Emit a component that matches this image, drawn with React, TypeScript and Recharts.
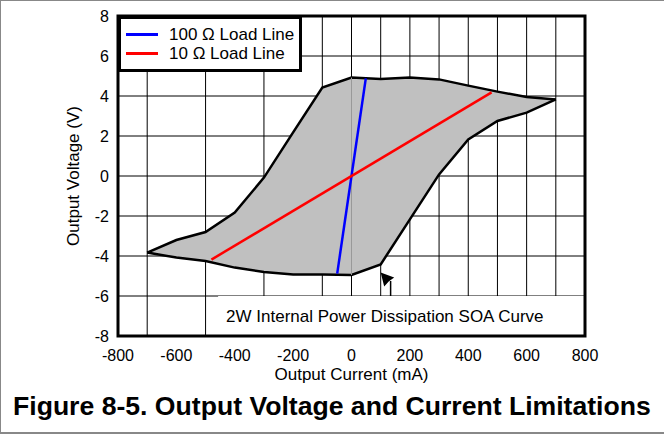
import React from 'react';
import {
  ComposedChart, Area, Line, XAxis, YAxis, CartesianGrid, ReferenceArea,
  ReferenceLine, ReferenceDot, Legend,
} from 'recharts';

// SOA polygon (output current mA, lower / upper output voltage V)
const soaCurrent = [-700, -600, -500, -400, -300, -200, -100, 0, 100, 200, 300, 400, 500, 600, 700];
const soaUpper = [-3.83, -3.2, -2.8, -1.83, -0.08, 2.18, 4.42, 4.92, 4.85, 4.92, 4.83, 4.52, 4.22, 3.95, 3.83];
const soaLower = [-3.83, -4.08, -4.25, -4.58, -4.8, -4.92, -4.92, -4.95, -4.42, -2.17, 0.08, 1.83, 2.75, 3.17, 3.83];

// Load lines
const load100Current = [-49, 49];
const load100Voltage = [-4.88, 4.88];
const load10Current = [-480, 480];
const load10Voltage = [-4.18, 4.18];
const legendNames = ['100 Ω Load Line', '10 Ω Load Line'];

// Axis ticks and grid
const xTicks = [-800, -600, -400, -200, 0, 200, 400, 600, 800];
const yTicks = [-8, -6, -4, -2, 0, 2, 4, 6, 8];
const xGrid = [-700, -600, -500, -400, -300, -200, -100, 0, 100, 200, 300, 400, 500, 600, 700];
const yGrid = [-6, -4, -2, 0, 2, 4, 6];

// Annotation
const soaBoxLeft = -457;
const soaBoxTop = -6;
const arrowTip = { x: 100, y: -4.83 };
const arrowTail = [{ x: 134, y: -6 }, { x: 134, y: -5.25 }];
const zeroLineSpan = [{ x: 0, y: -4.95 }, { x: 0, y: 4.92 }];

const soaData = soaCurrent.map((x, i) => ({ x, range: [soaLower[i], soaUpper[i]] }));
const load100Data = load100Current.map((x, i) => ({ x, v: load100Voltage[i] }));
const load10Data = load10Current.map((x, i) => ({ x, v: load10Voltage[i] }));

const FONT = '"Liberation Sans", Arial, Helvetica, sans-serif';

const ArrowHead = (props: any) => {
  const { cx, cy } = props;
  if (cx == null || cy == null) return null;
  const pts = [
    [cx, cy],
    [cx + 3.5, cy + 14],
    [cx + 8, cy + 9],
    [cx + 13.5, cy + 5],
  ].map((p) => p.join(',')).join(' ');
  return <polygon points={pts} fill="#000" />;
};

const LegendBox = (props: any) => {
  const payload = (props.payload || []) as any[];
  const entries = legendNames
    .map((n) => payload.find((e: any) => e.value === n))
    .filter(Boolean);
  return (
    <div
      style={{
        boxSizing: 'border-box',
        width: 184,
        height: 56,
        border: '3px solid #000',
        background: '#fff',
        fontFamily: FONT,
        fontSize: 17,
        color: '#000',
        position: 'relative',
      }}
    >
      {entries.map((entry: any, i: number) => (
        <div
          key={i}
          style={{ position: 'absolute', left: 5, top: 6 + i * 19, height: 19, display: 'flex', alignItems: 'center' }}
        >
          <div style={{ width: 32, height: 2.5, background: entry.color }} />
          <span style={{ marginLeft: 11, lineHeight: '19px' }}>{entry.value}</span>
        </div>
      ))}
    </div>
  );
};

export default function App() {
  return (
    <div style={{ position: 'absolute', left: 0, top: 0, width: 664, height: 435, background: '#fff' }}>
      <div style={{ position: 'absolute', left: 0, top: 0, width: 664, height: 1, background: '#888' }} />
      <div style={{ position: 'absolute', left: 0, top: 0, width: 1, height: 434, background: '#888' }} />
      <div style={{ position: 'absolute', left: 0, top: 432, width: 664, height: 2, background: '#888' }} />
      <div style={{ position: 'absolute', left: 0, top: 0 }}>
        <ComposedChart
          width={664}
          height={435}
          data={soaData}
          margin={{ top: 16, right: 79, left: 0, bottom: 67 }}
          style={{ fontFamily: FONT }}
        >
          <CartesianGrid
            stroke="#000"
            strokeWidth={1}
            verticalValues={xGrid}
            horizontalValues={yGrid}
          />
          <XAxis
            type="number"
            dataKey="x"
            domain={[-800, 800]}
            ticks={xTicks}
            allowDataOverflow
            axisLine={false}
            tickLine={false}
            tickSize={0}
            tickMargin={14}
            height={32}
            tick={{ fontSize: 16, fill: '#000', fontFamily: FONT }}
            label={{ value: 'Output Current (mA)', position: 'bottom', offset: 0, fontSize: 17, fill: '#000', fontFamily: FONT }}
          />
          <YAxis
            type="number"
            domain={[-8, 8]}
            ticks={yTicks}
            allowDataOverflow
            axisLine={false}
            tickLine={false}
            tickSize={0}
            tickMargin={9}
            width={118}
            tick={{ fontSize: 16, fill: '#000', fontFamily: FONT }}
            label={{
              value: 'Output Voltage (V)', angle: -90, position: 'insideLeft', offset: 73,
              style: { textAnchor: 'middle' }, fontSize: 17, fill: '#000', fontFamily: FONT,
            }}
          />
          <Area
            dataKey="range"
            type="linear"
            fill="#c0c0c0"
            fillOpacity={1}
            stroke="#000"
            strokeWidth={2.5}
            legendType="none"
            isAnimationActive={false}
            dot={false}
            activeDot={false}
          />
          <ReferenceLine segment={zeroLineSpan} stroke="#999" strokeWidth={1} />
          <Line
            data={load100Data}
            dataKey="v"
            name={legendNames[0]}
            type="linear"
            stroke="#0000ff"
            strokeWidth={2.5}
            dot={false}
            activeDot={false}
            isAnimationActive={false}
          />
          <Line
            data={load10Data}
            dataKey="v"
            name={legendNames[1]}
            type="linear"
            stroke="#ff0000"
            strokeWidth={2.5}
            dot={false}
            activeDot={false}
            isAnimationActive={false}
          />
          <ReferenceArea
            x1={soaBoxLeft}
            x2={800}
            y1={-8}
            y2={soaBoxTop}
            fill="#fff"
            fillOpacity={1}
            stroke="none"
            label={{
              value: '2W Internal Power Dissipation SOA Curve', position: 'insideLeft', offset: 8,
              fontSize: 17, fill: '#000', fontFamily: FONT,
            }}
          />
          <ReferenceLine segment={arrowTail} stroke="#000" strokeWidth={1.5} />
          <ReferenceDot x={arrowTip.x} y={arrowTip.y} shape={ArrowHead} />
          <ReferenceArea x1={-800} x2={800} y1={-8} y2={8} fill="none" stroke="#000" strokeWidth={3} />
          <Legend
            layout="vertical"
            align="center"
            verticalAlign="middle"
            content={LegendBox}
            wrapperStyle={{ position: 'absolute', top: 16, left: 118, width: 184, height: 56 }}
          />
        </ComposedChart>
      </div>
      <div
        style={{
          position: 'absolute', left: 13, top: 393, fontFamily: FONT, fontWeight: 'bold',
          fontSize: 26.6, lineHeight: 1, color: '#000', whiteSpace: 'nowrap',
        }}
      >
        Figure 8-5. Output Voltage and Current Limitations
      </div>
    </div>
  );
}
